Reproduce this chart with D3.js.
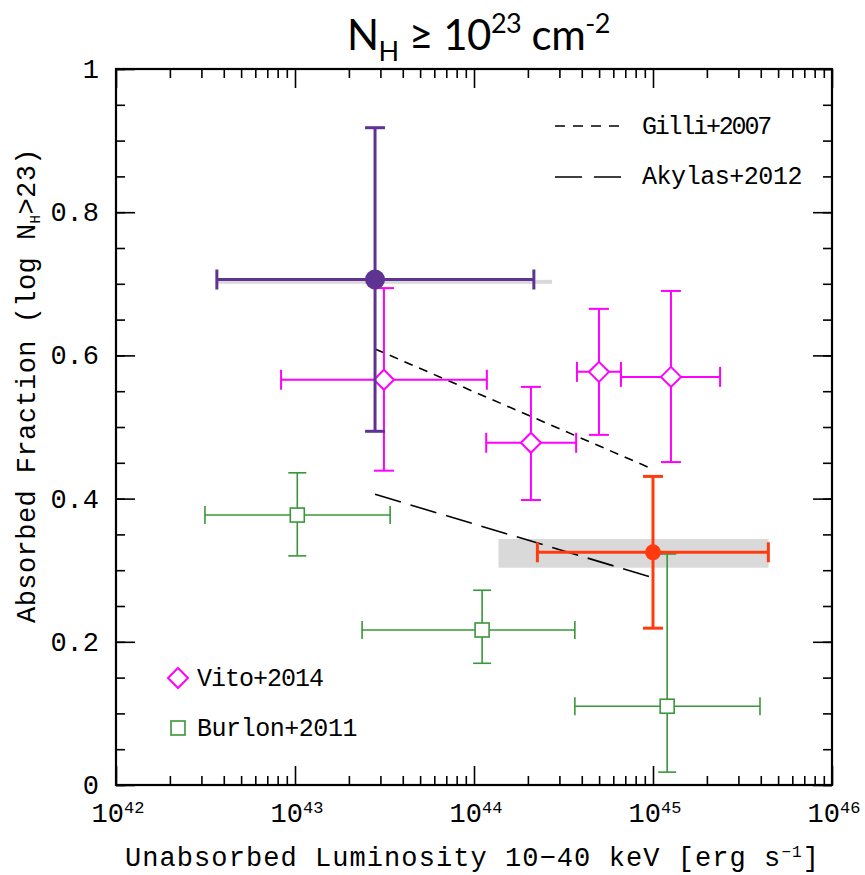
<!DOCTYPE html>
<html><head><meta charset="utf-8">
<script src="https://cdn.jsdelivr.net/npm/d3@7"></script>
<style>
html,body{margin:0;padding:0;background:#fff;}
svg{display:block;}
</style></head>
<body><svg id="c" width="865" height="875"></svg>
<script>
// ---- data ----
const xTickExps = [42, 43, 44, 45, 46];
const yTickLabels = ["0", "0.2", "0.4", "0.6", "0.8", "1"];
const yTickValues = [0, 0.2, 0.4, 0.6, 0.8, 1];

// This work (purple, low luminosity bin)
const purpleX = [2.80e43], purpleXlo = [3.66e42], purpleXhi = [2.16e44];
const purpleY = [0.706], purpleYlo = [0.494], purpleYhi = [0.918];
// This work (red, high luminosity bin)
const redX = [1.0e45], redXlo = [2.26e44], redXhi = [4.41e45];
const redY = [0.325], redYlo = [0.219], redYhi = [0.431];
// grey bands
const bandX0 = [3.66e42, 1.37e44], bandX1 = [2.73e44, 4.42e45];
const bandY0 = [0.700, 0.3035], bandY1 = [0.7055, 0.3437];
// Vito+2014
const vitoX = [3.14e43, 2.08e44, 4.99e44, 1.26e45];
const vitoXlo = [8.36e42, 1.17e44, 3.76e44, 6.62e44];
const vitoXhi = [1.18e44, 3.72e44, 6.62e44, 2.37e45];
const vitoY = [0.566, 0.478, 0.577, 0.570];
const vitoYlo = [0.439, 0.398, 0.489, 0.451];
const vitoYhi = [0.694, 0.556, 0.665, 0.690];
// Burlon+2011
const burlonX = [1.03e43, 1.11e44, 1.20e45];
const burlonXlo = [3.14e42, 2.37e43, 3.66e44];
const burlonXhi = [3.40e43, 3.66e44, 3.96e45];
const burlonY = [0.377, 0.2165, 0.110];
const burlonYlo = [0.320, 0.170, 0.018];
const burlonYhi = [0.436, 0.272, 0.3226];
// model lines
const gilliX = [2.80e43, 1.0e45], gilliY = [0.609, 0.441];
const akylasX = [2.80e43, 1.0e45], akylasY = [0.406, 0.2895];

// ---- layout ----
const FONT = "'Liberation Mono', 'DejaVu Sans Mono', 'Courier New', monospace";
const L = 116, R = 832, T = 69, B = 785;
const svg = d3.select("#c");
const x = d3.scaleLog().domain([1e42, 1e46]).range([L, R]);
const y = d3.scaleLinear().domain([0, 1]).range([B, T]);

const zip = (...a) => a[0].map((_, i) => a.map(v => v[i]));

// grey bands
svg.append("g").selectAll("rect").data(zip(bandX0, bandX1, bandY0, bandY1)).join("rect")
  .attr("x", d => x(d[0])).attr("width", d => x(d[1]) - x(d[0]))
  .attr("y", d => y(d[3])).attr("height", d => y(d[2]) - y(d[3]))
  .attr("fill", "#d9d9d9");

// model lines
const line = d3.line().x(d => x(d[0])).y(d => y(d[1]));
svg.append("path").datum(zip(gilliX, gilliY)).attr("d", line)
  .attr("stroke", "#000").attr("stroke-width", 1.6).attr("fill", "none").attr("stroke-dasharray", "9,7");
svg.append("path").datum(zip(akylasX, akylasY)).attr("d", line)
  .attr("stroke", "#000").attr("stroke-width", 1.6).attr("fill", "none").attr("stroke-dasharray", "27,10");

function errorbars(xs, xlo, xhi, ys, ylo, yhi, color, sw, cap) {
  const g = svg.append("g").attr("stroke", color).attr("stroke-width", sw).attr("fill", "none");
  const d = zip(xs, xlo, xhi, ys, ylo, yhi);
  d.forEach(p => {
    const cx = x(p[0]), cy = y(p[3]);
    g.append("line").attr("x1", x(p[1])).attr("x2", x(p[2])).attr("y1", cy).attr("y2", cy);
    g.append("line").attr("x1", cx).attr("x2", cx).attr("y1", y(p[4])).attr("y2", y(p[5]));
    g.append("line").attr("x1", x(p[1])).attr("x2", x(p[1])).attr("y1", cy - cap).attr("y2", cy + cap);
    g.append("line").attr("x1", x(p[2])).attr("x2", x(p[2])).attr("y1", cy - cap).attr("y2", cy + cap);
    g.append("line").attr("x1", cx - cap).attr("x2", cx + cap).attr("y1", y(p[4])).attr("y2", y(p[4]));
    g.append("line").attr("x1", cx - cap).attr("x2", cx + cap).attr("y1", y(p[5])).attr("y2", y(p[5]));
  });
  return d;
}

const cGreen = "#3a963a", cMag = "#ff00ff", cPurple = "#5e3392", cRed = "#ff3a0f";

// Burlon
const bd = errorbars(burlonX, burlonXlo, burlonXhi, burlonY, burlonYlo, burlonYhi, cGreen, 1.6, 9);
svg.append("g").selectAll("rect").data(bd).join("rect")
  .attr("x", d => x(d[0]) - 7).attr("y", d => y(d[3]) - 7).attr("width", 14).attr("height", 14)
  .attr("fill", "#fff").attr("stroke", cGreen).attr("stroke-width", 1.6);

// Vito
const vd = errorbars(vitoX, vitoXlo, vitoXhi, vitoY, vitoYlo, vitoYhi, cMag, 2, 10);
const dia = 10;
svg.append("g").selectAll("path").data(vd).join("path")
  .attr("d", d => { const cx = x(d[0]), cy = y(d[3]); return `M${cx},${cy - dia}L${cx + dia},${cy}L${cx},${cy + dia}L${cx - dia},${cy}Z`; })
  .attr("fill", "#fff").attr("stroke", cMag).attr("stroke-width", 2);

// Purple
const pd = errorbars(purpleX, purpleXlo, purpleXhi, purpleY, purpleYlo, purpleYhi, cPurple, 3, 10);
svg.append("g").selectAll("circle").data(pd).join("circle")
  .attr("cx", d => x(d[0])).attr("cy", d => y(d[3])).attr("r", 10).attr("fill", cPurple);

// Red
const rd = errorbars(redX, redXlo, redXhi, redY, redYlo, redYhi, cRed, 3, 10);
svg.append("g").selectAll("circle").data(rd).join("circle")
  .attr("cx", d => x(d[0])).attr("cy", d => y(d[3])).attr("r", 8).attr("fill", cRed);

// ---- axes ----
const minorY = d3.range(0, 1.0001, 0.05).map(v => +v.toFixed(2));
const minorX = [];
for (let e = 42; e < 46; e++) for (let k = 2; k <= 9; k++) minorX.push(k * Math.pow(10, e));
const majorX = xTickExps.map(e => Math.pow(10, e));

function ax(gen, tr, vals, size) {
  const g = svg.append("g").attr("transform", tr)
    .call(gen.tickValues(vals).tickSize(-size).tickFormat(""));
  g.select(".domain").remove();
  g.selectAll("line").attr("stroke", "#000").attr("stroke-width", 1.6);
}
ax(d3.axisLeft(y), `translate(${L},0)`, minorY, 9);
ax(d3.axisLeft(y), `translate(${L},0)`, yTickValues, 19);
ax(d3.axisRight(y), `translate(${R},0)`, minorY, 9);
ax(d3.axisRight(y), `translate(${R},0)`, yTickValues, 19);
ax(d3.axisBottom(x), `translate(0,${B})`, minorX, 9);
ax(d3.axisBottom(x), `translate(0,${B})`, majorX, 19);
ax(d3.axisTop(x), `translate(0,${T})`, minorX, 9);
ax(d3.axisTop(x), `translate(0,${T})`, majorX, 19);

svg.append("rect").attr("x", L).attr("y", T).attr("width", R - L).attr("height", B - T)
  .attr("fill", "none").attr("stroke", "#000").attr("stroke-width", 2.2);

// y tick labels
svg.append("g").selectAll("text").data(zip(yTickValues, yTickLabels)).join("text")
  .attr("font-family", FONT)
  .attr("x", 99).attr("y", d => y(d[0]) + 9).attr("text-anchor", "end")
  .attr("font-size", 27).text(d => d[1]);

// x tick labels
const xl = svg.append("g").selectAll("text").data(xTickExps).join("text")
  .attr("font-family", FONT)
  .attr("x", d => x(Math.pow(10, d)) + 2).attr("y", 822).attr("text-anchor", "middle").attr("font-size", 27);
xl.append("tspan").text("10");
xl.append("tspan").attr("dy", -9).attr("font-size", 17).text(d => d);

function fit(sel, w) {
  const n = sel.text().length;
  const bw = sel.node().getComputedTextLength();
  sel.attr("letter-spacing", (w - bw) / n);
}

// x title
const xt = svg.append("text").attr("font-family", FONT).attr("x", 125).attr("y", 866).attr("font-size", 27);
xt.append("tspan").text("Unabsorbed Luminosity 10\u221240 keV [erg s");
xt.append("tspan").attr("dy", -9).attr("font-size", 16).text("\u22121");
xt.append("tspan").attr("dy", 9).text("]");
fit(xt, 695);

// y title
const yt = svg.append("text").attr("font-family", FONT).attr("transform", "translate(35,623) rotate(-90)").attr("font-size", 27);
yt.append("tspan").text("Absorbed Fraction (log N");
yt.append("tspan").attr("dy", 5).attr("font-size", 14).text("H");
yt.append("tspan").attr("dy", -5).text(">23)");
fit(yt, 475);

// legend lines
svg.append("line").attr("x1", 555).attr("x2", 622).attr("y1", 126).attr("y2", 126)
  .attr("stroke", "#000").attr("stroke-width", 1.6).attr("stroke-dasharray", "10,8");
svg.append("line").attr("x1", 555).attr("x2", 622).attr("y1", 177).attr("y2", 177)
  .attr("stroke", "#000").attr("stroke-width", 1.6).attr("stroke-dasharray", "27,12");
const lg1 = svg.append("text").attr("font-family", FONT).attr("x", 642).attr("y", 134).attr("font-size", 25).text("Gilli+2007"); fit(lg1, 128);
const lg2 = svg.append("text").attr("font-family", FONT).attr("x", 642).attr("y", 184).attr("font-size", 25).text("Akylas+2012"); fit(lg2, 160);

// symbol legend
svg.append("path").attr("d", `M178,${678 - dia}L${178 + dia},678L178,${678 + dia}L${178 - dia},678Z`)
  .attr("fill", "#fff").attr("stroke", cMag).attr("stroke-width", 2);
svg.append("rect").attr("x", 171).attr("y", 721).attr("width", 14).attr("height", 14)
  .attr("fill", "#fff").attr("stroke", cGreen).attr("stroke-width", 1.6);
const lg3 = svg.append("text").attr("font-family", FONT).attr("x", 197).attr("y", 686).attr("font-size", 25).text("Vito+2014"); fit(lg3, 126);
const lg4 = svg.append("text").attr("font-family", FONT).attr("x", 197).attr("y", 736).attr("font-size", 25).text("Burlon+2011"); fit(lg4, 160);

// title
const tt = svg.append("text").attr("x", 347).attr("y", 50)
  .attr("font-family", "Lato, 'Open Sans', sans-serif").attr("font-size", 42);
tt.append("tspan").text("N");
tt.append("tspan").attr("dy", 11).attr("font-size", 27).text("H");
tt.append("tspan").attr("dy", -11).text(" \u2265 10");
tt.append("tspan").attr("dy", -17).attr("font-size", 27).text("23");
tt.append("tspan").attr("dy", 17).text(" cm");
tt.append("tspan").attr("dy", -17).attr("font-size", 27).text("-2");
fit(tt, 263);
</script></body></html>
